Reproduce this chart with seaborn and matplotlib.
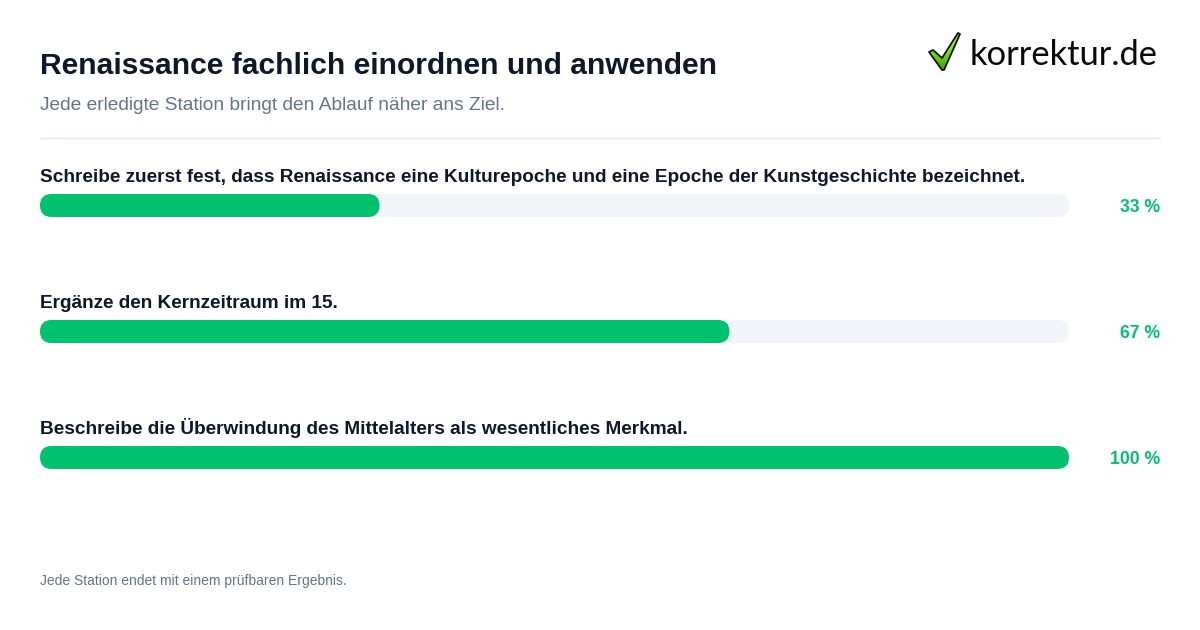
import matplotlib
matplotlib.use("Agg")
import matplotlib.pyplot as plt
import numpy as np
import pandas as pd
import seaborn as sns
from matplotlib.patches import FancyBboxPatch, Polygon
from matplotlib.lines import Line2D
from matplotlib.colors import LinearSegmentedColormap

title = "Renaissance fachlich einordnen und anwenden"
subtitle = "Jede erledigte Station bringt den Ablauf näher ans Ziel."
footer = "Jede Station endet mit einem prüfbaren Ergebnis."
steps = [
    "Schreibe zuerst fest, dass Renaissance eine Kulturepoche und eine Epoche der Kunstgeschichte bezeichnet.",
    "Ergänze den Kernzeitraum im 15.",
    "Beschreibe die Überwindung des Mittelalters als wesentliches Merkmal.",
]
progress = [33, 67, 100]
track = [100, 100, 100]

INK, MUTED, RULE, TRACK, GREEN = "#0f172a", "#64748b", "#e2e8f0", "#f1f5f9", "#00c26e"
W, H = 1200, 630

sns.set_theme(style="white")
plt.rcParams["font.family"] = ["Liberation Sans", "DejaVu Sans"]

fig = plt.figure(figsize=(W / 100, H / 100), dpi=100, facecolor="white")

def fx(px): return px / W
def fy(py): return 1 - py / H

ax = fig.add_axes([fx(40), fy(520.5), fx(1029), (520.5 - 142.5) / H])
df = pd.DataFrame({"step": steps, "progress": progress, "track": track})
bar_h = 23 / 126
sns.barplot(data=df, y="step", x="track", color=TRACK, width=bar_h, saturation=1, ax=ax, orient="h")
sns.barplot(data=df, y="step", x="progress", color=GREEN, width=bar_h, saturation=1, ax=ax, orient="h")
ax.set_xlim(0, 100)
ax.set_ylim(2.5, -0.5)
ax.axis("off")

rx = 11.5 / 1029 * 100
ry = bar_h / 2
for p in list(ax.patches):
    x, y, w, h, col = p.get_x(), p.get_y(), p.get_width(), p.get_height(), p.get_facecolor()
    p.remove()
    ax.add_patch(FancyBboxPatch((x, y), w, h, boxstyle=f"round,pad=0,rounding_size={rx}",
                                mutation_aspect=ry / rx, facecolor=col, edgecolor="none",
                                clip_on=False))

for i, (s, v) in enumerate(zip(steps, progress)):
    base = 182 + 126 * i
    fig.text(fx(40), fy(base), s, fontsize=13.72, fontweight="bold", color=INK, va="baseline", ha="left")
    fig.text(fx(1160), fy(base + 30), f"{v} %", fontsize=12.72, fontweight="bold", color=GREEN, va="baseline", ha="right")

fig.text(fx(40), fy(74), title, fontsize=21.6, fontweight="bold", color=INK, va="baseline")
fig.text(fx(40), fy(110), subtitle, fontsize=13.76, color=MUTED, va="baseline")
fig.add_artist(Line2D([fx(40), fx(1160)], [fy(138)] * 2, color=RULE, lw=1, transform=fig.transFigure))
fig.text(fx(40), fy(585), footer, fontsize=10.02, color=MUTED, va="baseline")

fig.text(fx(970), fy(65), "korrektur.de", fontsize=24.8, family="Lato", color="#0a0a0a", va="baseline")
lax = fig.add_axes([0, 0, 1, 1], facecolor="none")
pts = [(929, 52), (933, 50), (942, 58), (958, 33), (960, 34), (944, 70), (942, 70)]
cmap = LinearSegmentedColormap.from_list("tick", ["#c8f51e", "#7ee010", "#2f9e05"])
im = lax.imshow(np.linspace(0, 1, 64).reshape(-1, 1), extent=(925, 962, 72, 32), cmap=cmap, aspect="auto", zorder=2)
lax.set_xlim(0, W); lax.set_ylim(H, 0); lax.axis("off")
poly = Polygon(pts, closed=True, facecolor="none", edgecolor="#111111", lw=1.3, joinstyle="round", zorder=3)
lax.add_patch(poly)
im.set_clip_path(Polygon(pts, closed=True, transform=lax.transData))

fig.savefig("out.png", dpi=100, facecolor="white")
